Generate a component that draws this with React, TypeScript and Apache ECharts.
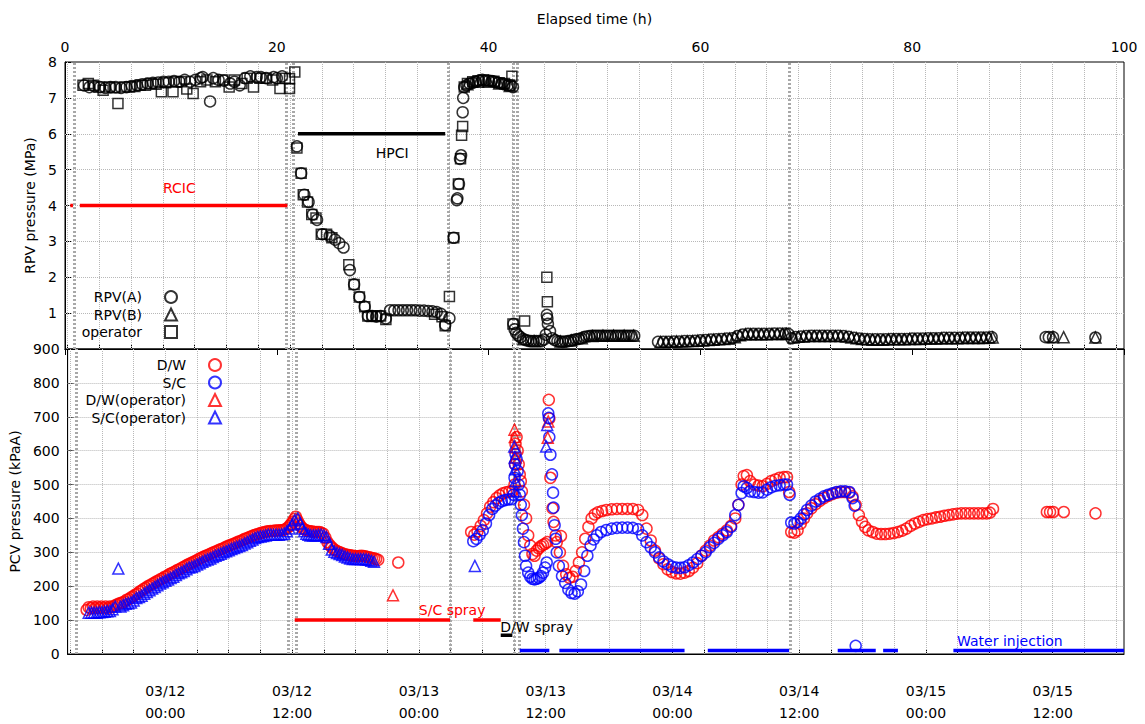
import { useEffect, useRef } from 'react';
import * as echarts from 'echarts';

const FONT = 'DejaVu Sans';

// ---- axis helpers (elapsed hours) ----
const gridHours = [0.25, 3.25, 6.25, 9.25, 12.25, 15.25, 18.25, 21.25, 24.25, 27.25, 30.25, 33.25, 36.25, 39.25, 42.25, 45.25, 48.25, 51.25, 54.25, 57.25, 60.25, 63.25, 66.25, 69.25, 72.25, 75.25, 78.25, 81.25, 84.25, 87.25, 90.25, 93.25, 96.25, 99.25];
const dateHours = [9.25, 21.25, 33.25, 45.25, 57.25, 69.25, 81.25, 93.25];
const dateLabels = ['03/12\n00:00', '03/12\n12:00', '03/13\n00:00', '03/13\n12:00', '03/14\n00:00', '03/14\n12:00', '03/15\n00:00', '03/15\n12:00'];
const rpvGridLevels = [1, 2, 3, 4, 5, 6, 7];
const pcvGridLevels = [100, 200, 300, 400, 500, 600, 700, 800];

// ---- RPV pressure (MPa) ----
const rpvA: [number, number][] = [
  [1.8, 7.35], [2.3, 7.3], [2.8, 7.32], [3.3, 7.3], [3.8, 7.28], [4.3, 7.3], [4.8, 7.3], [5.3, 7.28], [5.8, 7.3], [6.3, 7.33],
  [6.8, 7.35], [7.3, 7.38], [7.8, 7.4], [8.3, 7.42], [8.8, 7.43], [9.3, 7.45], [9.8, 7.45], [10.3, 7.47], [10.8, 7.45], [11.3, 7.5],
  [11.8, 7.45], [12.3, 7.5], [12.8, 7.55], [13.0, 7.58], [13.7, 6.9], [14.0, 7.55], [14.5, 7.5], [15.0, 7.48], [15.6, 7.4], [16.0, 7.45],
  [16.5, 7.35], [17.0, 7.55], [17.5, 7.6], [18.1, 7.58], [18.5, 7.58], [19.0, 7.55], [19.7, 7.58], [20.0, 7.55], [20.5, 7.6],
  [21.9, 5.65], [22.3, 4.9], [22.6, 4.3], [23.0, 4.1], [23.4, 3.75], [23.8, 3.6], [24.3, 3.2], [25.0, 3.15], [25.5, 3.05], [25.9, 2.95],
  [26.3, 2.83], [26.9, 2.2], [27.3, 1.8], [27.8, 1.45], [28.3, 1.18], [28.6, 0.92], [29.0, 0.92], [29.4, 0.9], [29.8, 0.92], [30.3, 0.85],
  [30.7, 1.08], [31.1, 1.08], [31.5, 1.08], [31.9, 1.08], [32.3, 1.08], [32.7, 1.08], [33.1, 1.08], [33.5, 1.07], [33.9, 1.07], [34.3, 1.06],
  [34.7, 1.05], [35.1, 1.03], [35.5, 0.98], [35.9, 0.67], [36.3, 0.86],
  [36.7, 3.1], [37.0, 4.15], [37.05, 4.2], [37.2, 4.6], [37.3, 5.3], [37.4, 5.4], [37.55, 6.6], [37.6, 7.0], [37.7, 7.3],
  [37.9, 7.35], [38.2, 7.4], [38.5, 7.42], [38.8, 7.45], [39.1, 7.48], [39.4, 7.5], [39.7, 7.48], [40.0, 7.48], [40.3, 7.47], [40.6, 7.45],
  [40.9, 7.42], [41.2, 7.4], [41.5, 7.38], [41.8, 7.35], [42.1, 7.35], [42.3, 7.3],
  [42.35, 0.7], [42.45, 0.55], [42.6, 0.45], [42.8, 0.38], [43.0, 0.33], [43.25, 0.28], [43.5, 0.25], [43.75, 0.23], [44.0, 0.22], [44.25, 0.22],
  [44.5, 0.22], [44.75, 0.22], [45.0, 0.22], [45.2, 0.26], [45.4, 0.4],
  [45.5, 0.95], [45.55, 0.85], [45.6, 0.7], [45.8, 0.5], [46.0, 0.3], [46.25, 0.25], [46.5, 0.22], [46.75, 0.21], [47.0, 0.2], [47.25, 0.21],
  [47.5, 0.22], [47.75, 0.23], [48.0, 0.25], [48.25, 0.27], [48.5, 0.28], [48.75, 0.3],
  [49.0, 0.33], [49.25, 0.35], [49.5, 0.36], [49.75, 0.37], [50.0, 0.37], [50.25, 0.37], [50.5, 0.37], [50.75, 0.37], [51.0, 0.37], [51.25, 0.37],
  [51.5, 0.37], [51.75, 0.37], [52.0, 0.37], [52.25, 0.37], [52.5, 0.37], [52.75, 0.37], [53.0, 0.37], [53.25, 0.37], [53.5, 0.37], [53.75, 0.37],
  [56.0, 0.2], [56.5, 0.2], [57.0, 0.2], [57.5, 0.21], [58.0, 0.21], [58.5, 0.22], [59.0, 0.22], [59.5, 0.23], [60.0, 0.24], [60.5, 0.25],
  [61.0, 0.26], [61.5, 0.27], [62.0, 0.28], [62.5, 0.29], [63.0, 0.3], [63.5, 0.36], [64.0, 0.4], [64.5, 0.42], [65.0, 0.42], [65.5, 0.42],
  [66.0, 0.42], [66.5, 0.42], [67.0, 0.43], [67.5, 0.43], [68.0, 0.43], [68.3, 0.42],
  [68.6, 0.3], [69.0, 0.33], [69.5, 0.35], [70.0, 0.36], [70.5, 0.37], [71.0, 0.37], [71.5, 0.37], [72.0, 0.37], [72.5, 0.37], [73.0, 0.37],
  [73.5, 0.36], [74.0, 0.34], [74.5, 0.31], [75.0, 0.29], [75.5, 0.28], [76.0, 0.27], [76.5, 0.27], [77.0, 0.27], [77.5, 0.27], [78.0, 0.28],
  [78.5, 0.28], [79.0, 0.28], [79.5, 0.28], [80.0, 0.29], [80.5, 0.29], [81.0, 0.29], [81.5, 0.3], [82.0, 0.3], [82.5, 0.3], [83.0, 0.31],
  [83.5, 0.31], [84.0, 0.31], [84.5, 0.31], [85.0, 0.32], [85.5, 0.32], [86.0, 0.32], [86.5, 0.32], [87.0, 0.32], [87.5, 0.33],
  [92.6, 0.33], [92.9, 0.33], [93.3, 0.33], [97.3, 0.32],
];

const rpvB: [number, number][] = [
  [38.0, 7.38], [39.0, 7.45], [40.0, 7.45], [41.0, 7.4], [42.0, 7.33],
  [43.3, 0.27], [44.3, 0.22], [46.8, 0.21], [47.8, 0.24], [48.8, 0.3], [49.8, 0.36], [50.8, 0.37], [51.8, 0.37], [52.8, 0.37], [53.7, 0.37],
  [56.25, 0.2], [56.75, 0.2], [57.25, 0.2], [57.75, 0.21], [58.25, 0.21], [58.75, 0.22], [59.25, 0.22], [59.75, 0.23], [60.25, 0.24], [60.75, 0.25],
  [61.25, 0.26], [61.75, 0.27], [62.25, 0.28], [62.75, 0.29], [63.25, 0.33], [63.75, 0.38], [64.25, 0.41], [64.75, 0.41], [65.25, 0.41], [65.75, 0.41],
  [66.25, 0.41], [66.75, 0.42], [67.25, 0.42], [67.75, 0.42], [68.1, 0.42], [68.8, 0.32], [69.25, 0.34], [69.75, 0.35], [70.25, 0.36], [70.75, 0.36],
  [71.25, 0.36], [71.75, 0.36], [72.25, 0.36], [72.75, 0.36], [73.25, 0.36], [73.75, 0.35], [74.25, 0.32], [74.75, 0.3], [75.25, 0.28], [75.75, 0.27],
  [76.25, 0.26], [76.75, 0.26], [77.25, 0.26], [77.75, 0.27], [78.25, 0.27], [78.75, 0.27], [79.25, 0.27], [79.75, 0.28], [80.25, 0.28], [80.75, 0.28],
  [81.25, 0.29], [81.75, 0.29], [82.25, 0.29], [82.75, 0.3], [83.25, 0.3], [83.75, 0.3], [84.25, 0.3], [84.75, 0.31], [85.25, 0.31], [85.75, 0.31],
  [86.25, 0.31], [86.75, 0.31], [87.25, 0.32], [87.6, 0.32], [93.3, 0.33], [94.3, 0.33], [97.3, 0.32],
];

const rpvOperator: [number, number][] = [
  [1.7, 7.35], [2.2, 7.4], [2.7, 7.35], [3.2, 7.3], [3.6, 7.21], [4.2, 7.3], [4.7, 7.28], [5.0, 6.84], [5.6, 7.3], [6.1, 7.3],
  [6.6, 7.32], [7.1, 7.35], [7.6, 7.35], [8.1, 7.4], [8.6, 7.38], [9.1, 7.17], [9.5, 7.42], [10.2, 7.17], [10.5, 7.45], [11.0, 7.45],
  [11.5, 7.25], [12.1, 7.12], [12.8, 7.45], [13.4, 7.5], [14.2, 7.45], [14.9, 7.5], [15.5, 7.3], [16.0, 7.5], [16.7, 7.4], [17.2, 7.55],
  [17.8, 7.3], [18.4, 7.55], [19.0, 7.55], [19.6, 7.5], [20.3, 7.26], [20.8, 7.55], [21.2, 7.26], [21.2, 7.53], [21.7, 7.72],
  [21.9, 5.6], [22.3, 4.9], [22.5, 4.3], [22.9, 4.1], [23.3, 3.75], [23.7, 3.65], [24.2, 3.2], [24.7, 3.2], [25.2, 3.1], [26.8, 2.35],
  [27.3, 1.8], [27.8, 1.45], [28.3, 1.18], [28.6, 0.92], [29.0, 0.92], [29.4, 0.92], [29.8, 0.92], [30.3, 0.82], [34.9, 0.97], [35.6, 0.9],
  [35.9, 0.65], [36.3, 1.46],
  [36.7, 3.1], [37.15, 4.6], [37.35, 5.3], [37.45, 5.96], [37.55, 6.2], [37.7, 7.3], [38.0, 7.4], [38.5, 7.45], [39.0, 7.48], [39.5, 7.5],
  [40.0, 7.48], [40.5, 7.46], [41.0, 7.42], [41.5, 7.4], [42.0, 7.35], [42.2, 7.6],
  [42.3, 0.7], [43.4, 0.78], [45.5, 2.0], [45.55, 1.32],
];

// ---- PCV pressure (kPaA) ----
const dwPressure: [number, number][] = [
  [1.8, 130], [2.0, 138], [2.2, 135], [2.4, 140], [2.6, 135], [2.8, 140], [3.0, 135], [3.2, 140], [3.4, 135], [3.6, 140], [3.8, 135], [4.0, 140],
  [4.2, 138], [4.4, 142], [4.6, 145], [4.8, 148], [5.0, 150], [5.2, 152], [5.4, 155], [5.6, 160],
  [5.8, 162], [6.0, 167], [6.2, 170], [6.4, 175], [6.6, 178], [6.8, 184], [7.0, 187], [7.2, 192], [7.4, 195], [7.6, 200], [7.8, 203], [8.0, 207],
  [8.2, 210], [8.4, 214], [8.6, 217], [8.8, 221], [9.0, 223], [9.2, 228], [9.4, 230],
  [9.6, 235], [9.8, 238], [10.0, 241], [10.2, 244], [10.4, 248], [10.6, 250], [10.8, 254], [11.0, 257], [11.2, 261], [11.4, 264], [11.6, 267],
  [11.8, 270], [12.0, 273], [12.2, 276], [12.4, 280], [12.6, 283], [12.8, 286], [13.0, 289], [13.2, 291], [13.4, 294], [13.6, 297],
  [13.8, 300], [14.0, 302], [14.2, 305], [14.4, 308], [14.6, 310], [14.8, 313], [15.0, 316], [15.2, 319], [15.4, 321], [15.6, 324],
  [15.8, 326], [16.0, 329], [16.2, 332], [16.4, 334], [16.6, 337], [16.8, 340], [17.0, 342], [17.2, 345], [17.4, 347], [17.6, 350],
  [17.8, 352], [18.0, 354], [18.2, 356], [18.4, 358], [18.6, 359], [18.8, 361], [19.0, 362], [19.2, 363], [19.4, 363], [19.6, 364],
  [19.8, 364], [20.0, 365], [20.2, 365], [20.4, 366], [20.6, 368], [20.8, 372], [21.0, 378], [21.15, 384], [21.3, 390], [21.45, 398],
  [21.6, 405], [21.75, 395], [21.9, 385], [22.05, 378], [22.2, 372], [22.4, 368], [22.6, 365], [22.8, 363], [23.0, 362], [23.2, 361],
  [23.4, 360], [23.6, 360], [23.8, 360], [24.0, 358], [24.2, 355], [24.4, 343], [24.6, 330], [24.8, 322], [25.0, 315], [25.2, 309],
  [25.4, 305], [25.6, 302], [25.8, 300], [26.0, 297], [26.2, 295], [26.4, 293], [26.6, 292], [26.8, 291], [27.0, 290], [27.2, 289],
  [27.4, 288], [27.6, 289], [27.8, 290], [28.0, 289], [28.2, 288], [28.4, 286], [28.6, 285], [28.8, 283], [29.0, 282], [29.2, 280],
  [29.4, 278], [31.3, 270],
  [38.2, 360], [38.5, 352], [38.8, 362], [39.1, 378], [39.4, 395], [39.7, 415], [40.0, 435], [40.3, 448], [40.6, 460], [40.9, 468],
  [41.2, 474], [41.5, 477], [41.8, 479], [42.1, 481], [42.3, 500], [42.35, 560], [42.4, 620], [42.5, 640], [42.6, 600], [42.7, 560],
  [42.8, 530], [42.9, 510], [43.0, 480], [43.2, 440], [43.4, 400], [43.6, 350], [43.8, 320], [44.0, 295], [44.2, 290], [44.4, 305],
  [44.6, 312], [44.8, 318], [45.0, 322], [45.2, 325], [45.4, 330], [45.55, 750], [45.6, 695], [45.7, 520], [45.9, 430], [46.0, 390],
  [46.2, 350], [46.7, 348], [46.3, 330], [46.6, 300], [46.9, 260], [47.2, 235], [47.5, 225], [47.8, 228], [48.1, 245], [48.4, 270],
  [48.7, 300], [49.0, 340], [49.3, 375], [49.6, 400], [49.9, 412], [50.2, 418], [50.6, 422], [51.0, 425], [51.5, 427], [52.0, 428],
  [52.5, 428], [53.0, 428], [53.5, 428], [54.0, 425], [54.4, 410], [54.8, 370], [55.2, 335], [55.6, 305], [56.0, 282], [56.4, 265],
  [56.8, 250], [57.2, 242], [57.6, 238], [58.0, 237], [58.4, 240], [58.8, 245], [59.2, 255], [59.6, 268], [60.0, 290], [60.4, 305],
  [60.8, 320], [61.2, 335], [61.6, 345], [62.0, 355], [62.4, 365], [62.8, 378], [63.2, 400], [63.5, 440], [63.8, 500], [64.0, 525],
  [64.3, 528], [64.6, 510], [65.0, 500], [65.4, 497], [65.8, 495], [66.2, 502], [66.6, 510], [67.0, 515], [67.4, 520], [67.8, 522],
  [68.1, 522], [68.3, 478], [68.5, 360], [68.8, 358], [69.1, 365], [69.4, 385], [69.7, 400], [70.0, 415], [70.4, 430], [70.8, 442],
  [71.2, 452], [71.6, 460], [72.0, 467], [72.4, 472], [72.8, 476], [73.2, 478], [73.6, 478], [74.0, 476], [74.3, 465], [74.6, 440],
  [74.9, 410], [75.2, 390], [75.5, 375], [75.8, 365], [76.2, 360], [76.6, 355], [77.0, 354], [77.4, 354], [77.8, 355], [78.2, 357],
  [78.6, 360], [79.0, 364], [79.4, 370], [79.8, 378], [80.2, 385], [80.6, 390], [81.0, 395], [81.4, 398], [81.8, 400], [82.2, 403],
  [82.6, 405], [83.0, 408], [83.4, 410], [83.8, 412], [84.2, 414], [84.6, 415], [85.0, 415], [85.4, 415], [85.8, 415], [86.2, 415],
  [86.6, 415], [87.0, 415], [87.3, 417], [87.6, 428], [92.7, 419], [93.0, 419], [93.3, 419], [94.3, 419], [97.3, 415],
];

const scPressure: [number, number][] = [
  [38.4, 333], [38.7, 340], [39.0, 352], [39.3, 365], [39.6, 385], [39.9, 410], [40.2, 428], [40.5, 438], [40.8, 446], [41.1, 451],
  [41.4, 454], [41.7, 456], [42.0, 457], [42.2, 470], [42.3, 520], [42.35, 560], [42.4, 590], [42.5, 575], [42.6, 540], [42.7, 500],
  [42.8, 470], [42.9, 440], [43.0, 410], [43.1, 370], [43.2, 330], [43.3, 290], [43.4, 260], [43.6, 240], [43.8, 228], [44.0, 222],
  [44.2, 220], [44.4, 222], [44.6, 225], [44.8, 230], [45.0, 240], [45.2, 255], [45.35, 270], [45.5, 710], [45.55, 697], [45.6, 640],
  [45.7, 588], [45.85, 530], [45.95, 476], [46.0, 432], [46.1, 380], [46.2, 340], [46.3, 300], [46.5, 260], [46.8, 230], [47.1, 210],
  [47.4, 190], [47.7, 180], [48.0, 178], [48.3, 185], [48.6, 205], [48.9, 245], [49.2, 290], [49.5, 320], [49.8, 338], [50.1, 350],
  [50.5, 360], [51.0, 366], [51.5, 370], [52.0, 372], [52.5, 373], [53.0, 373], [53.5, 372], [54.0, 368], [54.4, 350], [54.8, 330],
  [55.2, 315], [55.6, 300], [56.0, 285], [56.4, 273], [56.8, 265], [57.2, 258], [57.6, 255], [58.0, 254], [58.4, 256], [58.8, 262],
  [59.2, 270], [59.6, 280], [60.0, 290], [60.4, 300], [60.8, 315], [61.2, 328], [61.6, 340], [62.0, 350], [62.4, 360], [62.8, 375],
  [63.2, 410], [63.5, 440], [63.8, 475], [64.0, 495], [64.3, 490], [64.6, 480], [65.0, 478], [65.4, 476], [65.8, 477], [66.2, 485],
  [66.6, 492], [67.0, 496], [67.4, 498], [67.8, 500], [68.1, 500], [68.35, 470], [68.5, 388], [68.8, 385], [69.1, 390], [69.4, 400],
  [69.7, 412], [70.0, 425], [70.4, 438], [70.8, 450], [71.2, 458], [71.6, 465], [72.0, 470], [72.4, 474], [72.8, 478], [73.2, 480],
  [73.6, 480], [74.0, 478], [74.3, 460], [74.5, 438], [74.6, 24],
];

const dwOperator: [number, number][] = [
  [30.8, 173], [42.3, 662], [42.33, 640], [42.38, 610], [42.42, 580], [45.5, 686], [45.45, 638],
];

const scOperator: [number, number][] = [
  [2.0, 122], [2.25, 122], [2.5, 122], [2.75, 122], [3.0, 123], [3.25, 124], [3.5, 125], [3.75, 126], [4.0, 127], [4.25, 132], [4.5, 140],
  [4.8, 252], [5.0, 140], [5.25, 144], [5.5, 148], [5.75, 150], [6.0, 152], [6.25, 158],
  [6.5, 165], [6.75, 168], [7.0, 172], [7.25, 178], [7.5, 183], [7.75, 188], [8.0, 193], [8.25, 198], [8.5, 203], [8.75, 208], [9.0, 212],
  [9.25, 216], [9.5, 220], [9.75, 224], [10.0, 228], [10.25, 233], [10.5, 238], [10.75, 241], [11.0, 245],
  [11.25, 250], [11.5, 255], [11.75, 257], [12.0, 260], [12.25, 264], [12.5, 268], [12.75, 272], [13.0, 276], [13.25, 279], [13.5, 282],
  [13.75, 286], [14.0, 290], [14.25, 293], [14.5, 296], [14.75, 300], [15.0, 303], [15.25, 306], [15.5, 310], [15.75, 313], [16.0, 316],
  [16.25, 319], [16.5, 322], [16.75, 326], [17.0, 330], [17.25, 334], [17.5, 338], [17.75, 342], [18.0, 345], [18.25, 347], [18.5, 348],
  [18.75, 350], [19.0, 352], [19.25, 352], [19.5, 352], [19.75, 352], [20.0, 352], [20.25, 353], [20.5, 355], [20.75, 362], [21.0, 370],
  [21.25, 382], [21.5, 395], [21.8, 400], [22.0, 385], [22.2, 370], [22.4, 362], [22.6, 355], [22.8, 352], [23.0, 350], [23.25, 350],
  [23.5, 350], [23.75, 351], [24.0, 352], [24.25, 350], [24.5, 345], [24.75, 325], [25.0, 308], [25.25, 302], [25.5, 298], [25.75, 295],
  [26.0, 292], [26.25, 288], [26.5, 285], [26.75, 282], [27.0, 280], [27.25, 280], [27.5, 280], [27.75, 280], [28.0, 280], [28.25, 279],
  [28.5, 278], [28.75, 275], [29.0, 272],
  [38.55, 260], [42.28, 612], [42.32, 580], [42.36, 545], [42.4, 510], [42.45, 480], [45.4, 676], [45.3, 612],
];

// ---- events & operations ----
const eventHours = [0.85, 20.9, 21.6, 36.2, 42.3, 42.75, 68.4];
const RCIC_LEVEL = 4;
const rcicPeriods = [[0.5, 0.75], [1.4, 21.0]];
const HPCI_LEVEL = 6;
const hpciPeriods = [[22.0, 35.9]];
const SC_SPRAY_LEVEL = 100;
const scSprayPeriods = [[21.5, 36.2], [38.4, 41.0]];
const DW_SPRAY_LEVEL = 55;
const dwSprayPeriods = [[41.0, 42.1]];
const WATER_LEVEL = 10;
const waterPeriods = [[42.8, 45.6], [46.55, 58.4], [60.6, 68.3], [72.9, 76.5], [77.2, 78.6], [83.85, 100]];

const notes = [
  { text: 'RCIC', t: 10.8, v: 4.48, panel: 0, color: '#ff0000' },
  { text: 'HPCI', t: 30.9, v: 5.46, panel: 0, color: '#000000' },
  { text: 'S/C spray', t: 36.4, v: 129, panel: 1, color: '#ff0000' },
  { text: 'D/W spray', t: 44.4, v: 79, panel: 1, color: '#000000' },
  { text: 'Water injection', t: 89.2, v: 38, panel: 1, color: '#0000ff' },
];

function scatter(name: string, data: [number, number][], symbol: string, color: string, panel: number, size = 11) {
  return {
    type: 'scatter', name, data, symbol, symbolSize: size,
    xAxisIndex: panel === 0 ? 0 : 2, yAxisIndex: panel,
    itemStyle: { color: 'rgba(0,0,0,0)', borderColor: color, borderWidth: 1.5 },
    emphasis: { disabled: true }, z: 3,
  };
}

function segments(periods: number[][], level: number, color: string, panel: number, width = 3.5) {
  return periods.map((p) => ({
    type: 'line', data: [[p[0], level], [p[1], level]], symbol: 'none', silent: true,
    xAxisIndex: panel === 0 ? 0 : 2, yAxisIndex: panel,
    lineStyle: { color, width }, z: 4,
  }));
}

function refLines(panel: number, key: 'xAxis' | 'yAxis', values: number[], lineStyle: object, z: number) {
  return {
    type: 'line', data: [], xAxisIndex: panel === 0 ? 0 : 2, yAxisIndex: panel, silent: true, z,
    markLine: {
      silent: true, symbol: ['none', 'none'], label: { show: false }, z,
      lineStyle, emphasis: { disabled: true },
      data: values.map((v) => ({ [key]: v })),
    },
  };
}

function noteSeries(panel: number) {
  return {
    type: 'scatter', data: [], xAxisIndex: panel === 0 ? 0 : 2, yAxisIndex: panel, silent: true,
    markPoint: {
      symbol: 'rect', symbolSize: 1, silent: true, itemStyle: { color: 'rgba(0,0,0,0)' },
      data: notes.filter((n) => n.panel === panel).map((n) => ({
        coord: [n.t, n.v],
        label: { show: true, position: 'inside', formatter: n.text, color: n.color, fontSize: 14, fontFamily: FONT },
      })),
    },
  };
}

const gridLineStyle = { color: '#b8b8b8', type: 'dotted', width: 1, opacity: 1 };
const eventLineStyle = { color: '#a8a8a8', type: [2, 2], width: 3 };
const axisLine = { show: true, lineStyle: { color: '#000', width: 1 } };
const labelStyle = { color: '#000', fontSize: 14, fontFamily: FONT };
const legendText = { ...labelStyle, padding: [0, 18, 0, 0] };

export default function App() {
  const ref = useRef<HTMLDivElement>(null);
  useEffect(() => {
    document.body.style.margin = '0';
    const chart = echarts.init(ref.current!, null, { renderer: 'svg' });
    chart.setOption({
      animation: false,
      backgroundColor: '#fff',
      textStyle: { fontFamily: FONT },
      grid: [
        { left: 65, top: 62, width: 1059, height: 287, show: true, borderColor: '#000', borderWidth: 1, backgroundColor: 'transparent' },
        { left: 65, top: 349, width: 1059, height: 306, show: true, borderColor: '#000', borderWidth: 1, backgroundColor: 'transparent' },
      ],
      xAxis: [
        {
          type: 'value', gridIndex: 0, position: 'top', min: 0, max: 100, interval: 20,
          name: 'Elapsed time (h)', nameLocation: 'middle', nameGap: 36, nameTextStyle: labelStyle,
          axisLine, axisTick: { show: true, inside: true, length: 6, lineStyle: { color: '#000' } },
          axisLabel: { ...labelStyle, margin: 8 }, splitLine: { show: false },
        },
        {
          type: 'value', gridIndex: 0, position: 'bottom', min: 0, max: 100,
          axisLine, axisLabel: { show: false },
          axisTick: { show: true, inside: true, length: 5, customValues: gridHours, lineStyle: { color: '#000' } },
          splitLine: { show: false },
        },
        {
          type: 'value', gridIndex: 1, position: 'bottom', min: 0, max: 100,
          axisLine,
          axisTick: { show: true, inside: true, length: 5, customValues: gridHours, lineStyle: { color: '#000' } },
          axisLabel: {
            ...labelStyle, margin: 26, lineHeight: 22, customValues: dateHours,
            formatter: (v: number) => {
              const i = dateHours.findIndex((d) => Math.abs(d - v) < 0.01);
              return i >= 0 ? dateLabels[i] : '';
            },
          },
          splitLine: { show: false },
        },
      ],
      yAxis: [
        {
          type: 'value', gridIndex: 0, min: 0, max: 8, interval: 1,
          name: 'RPV pressure (MPa)', nameLocation: 'middle', nameGap: 19, nameRotate: 90, nameTextStyle: labelStyle,
          axisLine, axisTick: { show: true, inside: true, length: 6, lineStyle: { color: '#000' } },
          axisLabel: { ...labelStyle, margin: 8, formatter: (v: number) => (v === 0 ? '' : String(v)) },
          splitLine: { show: false },
        },
        {
          type: 'value', gridIndex: 1, min: 0, max: 900, interval: 100,
          name: 'PCV pressure (kPaA)', nameLocation: 'middle', nameGap: 36, nameRotate: 90, nameTextStyle: labelStyle,
          axisLine, axisTick: { show: true, inside: true, length: 6, lineStyle: { color: '#000' } },
          axisLabel: { ...labelStyle, margin: 8 },
          splitLine: { show: false },
        },
      ],
      legend: [
        {
          data: ['RPV(A)', 'RPV(B)', 'operator'], orient: 'vertical', align: 'right', right: 967, top: 290,
          itemWidth: 12, itemHeight: 12, itemGap: 3.5, padding: 0, textStyle: legendText, selectedMode: false,
        },
        {
          data: ['D/W', 'S/C', 'D/W(operator)', 'S/C(operator)'], orient: 'vertical', align: 'right', right: 923, top: 358,
          itemWidth: 12, itemHeight: 12, itemGap: 3.5, padding: 0, textStyle: legendText, selectedMode: false,
        },
      ],
      series: [
        refLines(0, 'xAxis', gridHours, gridLineStyle, 1),
        refLines(1, 'xAxis', gridHours, gridLineStyle, 1),
        refLines(0, 'yAxis', rpvGridLevels, gridLineStyle, 1),
        refLines(1, 'yAxis', pcvGridLevels, gridLineStyle, 1),
        refLines(0, 'xAxis', eventHours, eventLineStyle, 2),
        refLines(1, 'xAxis', eventHours, eventLineStyle, 2),
        ...segments(rcicPeriods, RCIC_LEVEL, '#ff0000', 0),
        ...segments(hpciPeriods, HPCI_LEVEL, '#000000', 0),
        ...segments(scSprayPeriods, SC_SPRAY_LEVEL, '#ff0000', 1),
        ...segments(dwSprayPeriods, DW_SPRAY_LEVEL, '#000000', 1),
        ...segments(waterPeriods, WATER_LEVEL, '#0000ff', 1),
        scatter('RPV(A)', rpvA, 'circle', '#000000', 0),
        scatter('RPV(B)', rpvB, 'triangle', '#000000', 0),
        scatter('operator', rpvOperator, 'rect', '#000000', 0, 10),
        scatter('D/W', dwPressure, 'circle', '#ff0000', 1),
        scatter('S/C', scPressure, 'circle', '#0000ff', 1),
        scatter('D/W(operator)', dwOperator, 'triangle', '#ff0000', 1),
        scatter('S/C(operator)', scOperator, 'triangle', '#0000ff', 1),
        noteSeries(0),
        noteSeries(1),
      ],
    });
    return () => chart.dispose();
  }, []);
  return <div ref={ref} style={{ width: 1145, height: 724 }} />;
}
